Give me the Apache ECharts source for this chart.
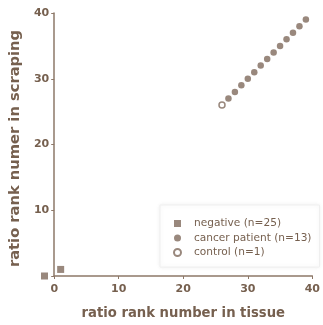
<!DOCTYPE html>
<html><head><meta charset="utf-8">
<script src="https://cdn.jsdelivr.net/npm/echarts@6/dist/echarts.min.js"></script>
<style>html,body{margin:0;padding:0;background:#fff}#c{width:323px;height:325px}</style>
</head><body><div id="c"></div>
<script>
// data
const negativeX = [-1.5, 1];
const negativeY = [0, 1];
const cancerX = [27,28,29,30,31,32,33,34,35,36,37,38,39];
const cancerY = [27,28,29,30,31,32,33,34,35,36,37,38,39];
const controlX = [26];
const controlY = [26];
const xTicks = [0,10,20,30,40];
const yTicks = [10,20,30,40];
const legendNames = ['negative (n=25)','cancer patient (n=13)','control (n=1)'];

const zip = (a,b)=>a.map((v,i)=>[v,b[i]]);
const brown = '#7f6a5c';
const axisCol = '#8d7868';
const txt = '#76604f';
const font = 'DejaVu Sans, Verdana, sans-serif';
const chart = echarts.init(document.getElementById('c'));
chart.setOption({
  animation:false,
  grid:{left:53,right:5,top:13,bottom:48,containLabel:false},
  legend:{
    orient:'vertical', left:160, top:205, itemWidth:7, itemHeight:7, itemGap:3.5,
    padding:[13,8,9,13],
    backgroundColor:'#fff', borderColor:'#f0f0f0', borderWidth:1,
    shadowColor:'rgba(0,0,0,0.08)', shadowBlur:4,
    textStyle:{color:txt,fontSize:10.6,fontFamily:font,padding:[0,0,0,8]},
    data:[
      {name:legendNames[0],icon:'rect'},
      {name:legendNames[1],icon:'circle'},
      {name:legendNames[2],icon:'circle'}
    ]
  },
  xAxis:{
    type:'value', min:0, max:40, interval:10,
    name:'ratio rank number in tissue', nameLocation:'middle', nameGap:31,
    nameTextStyle:{color:txt,fontSize:13.2,fontWeight:'bold',fontFamily:font},
    axisLine:{lineStyle:{color:axisCol,width:1.5}},
    axisTick:{show:true,length:3,lineStyle:{color:axisCol}},
    splitLine:{show:false},
    axisLabel:{margin:8,fontSize:11,fontWeight:'bold',fontFamily:font,
      color:(v)=> v===0 ? '#c8c0bb' : txt,
      formatter:(v)=> xTicks.includes(v)? String(v):''}
  },
  yAxis:{
    type:'value', min:0, max:40, interval:10,
    name:'ratio rank numer in scraping', nameLocation:'middle', nameGap:25,
    nameTextStyle:{color:txt,fontSize:14.7,fontWeight:'bold',fontFamily:font,padding:[0,8,0,0]},
    axisLine:{lineStyle:{color:axisCol,width:1.5}},
    axisTick:{show:true,length:3,lineStyle:{color:axisCol}},
    splitLine:{show:false},
    axisLabel:{margin:5,fontSize:11,fontWeight:'bold',fontFamily:font,color:txt,
      formatter:(v)=> yTicks.includes(v)? String(v):''}
  },
  series:[
    {name:legendNames[0],type:'scatter',symbol:'rect',symbolSize:7,clip:false,
     itemStyle:{color:brown},data:zip(negativeX,negativeY)},
    {name:legendNames[1],type:'scatter',symbol:'circle',symbolSize:6.5,clip:false,
     itemStyle:{color:brown},data:zip(cancerX,cancerY)},
    {name:legendNames[2],type:'scatter',symbol:'circle',symbolSize:6,clip:false,
     itemStyle:{color:'#fff',borderColor:brown,borderWidth:1.5},data:zip(controlX,controlY)}
  ]
});
</script></body></html>
